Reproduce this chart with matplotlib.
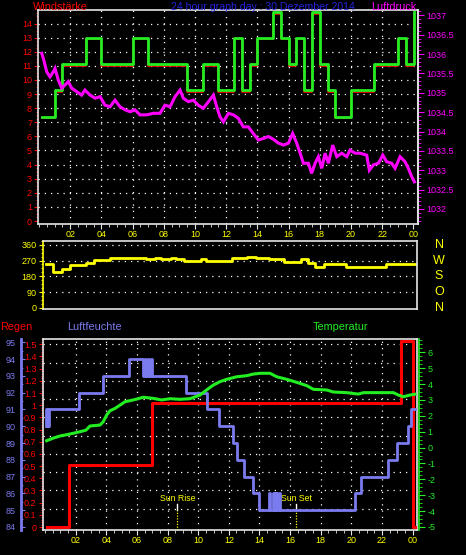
import numpy as np
import matplotlib
matplotlib.use("Agg")
import matplotlib.pyplot as plt
from matplotlib.ticker import MultipleLocator, FixedLocator, FixedFormatter, FormatStrFormatter
import matplotlib.transforms as mtransforms

# ---------------- data ----------------
hour_ticks = [2, 4, 6, 8, 10, 12, 14, 16, 18, 20, 22, 24]
hour_labels = ['02', '04', '06', '08', '10', '12', '14', '16', '18', '20', '22', '00']

# Windstärke (step series)
wind_hours = [0.17, 1.0, 1.5, 3.0, 4.0, 6.0, 7.0, 9.5, 10.5, 11.5, 12.5, 13.0, 13.5, 14.0,
              15.0, 15.5, 16.0, 16.5, 17.0, 17.5, 18.0, 18.5, 19.0, 20.0, 21.5, 23.0, 23.5, 24.05]
wind_vals = [7.4, 9.26, 11.1, 13.0, 11.1, 13.0, 11.1, 9.26, 11.1, 9.26, 13.0, 9.26, 11.1, 13.0,
             14.8, 13.0, 11.1, 13.0, 9.26, 14.8, 11.1, 9.26, 7.4, 9.26, 11.1, 13.0, 11.1, 14.8]

# Luftdruck
press_hours = [0.17, 0.27, 0.38, 0.49, 0.70, 0.91, 1.02, 1.23, 1.45, 1.66, 1.87, 2.09, 2.41, 2.73,
               2.94, 3.27, 3.59, 3.91, 4.23, 4.55, 4.87, 5.19, 5.51, 5.83, 6.15, 6.47, 6.90, 7.33,
               7.75, 8.07, 8.40, 8.72, 9.04, 9.25, 9.57, 9.89, 10.21, 10.53, 10.86, 11.18, 11.39,
               11.60, 11.82, 12.14, 12.46, 12.78, 13.10, 13.42, 13.74, 14.06, 14.38, 14.70, 15.02,
               15.35, 15.67, 15.99, 16.26, 16.52, 16.74, 16.95, 17.27, 17.48, 17.70, 17.91, 18.13,
               18.34, 18.55, 18.83, 19.09, 19.41, 19.73, 19.94, 20.26, 20.58, 21.01, 21.18, 21.44,
               21.76, 22.04, 22.29, 22.61, 22.83, 23.15, 23.47, 23.68, 23.90, 24.07]
press_vals = [1036.02, 1035.89, 1035.72, 1035.54, 1035.41, 1035.54, 1035.63, 1035.33, 1035.12,
              1035.20, 1035.29, 1035.12, 1035.03, 1034.94, 1035.07, 1034.94, 1034.86, 1034.90,
              1034.68, 1034.64, 1034.81, 1034.64, 1034.56, 1034.51, 1034.56, 1034.43, 1034.43,
              1034.47, 1034.47, 1034.68, 1034.64, 1034.90, 1035.07, 1034.86, 1034.77, 1034.81,
              1034.68, 1034.60, 1034.77, 1034.94, 1034.64, 1034.38, 1034.25, 1034.47, 1034.43,
              1034.34, 1034.12, 1034.12, 1033.95, 1033.78, 1033.82, 1033.87, 1033.80, 1033.70,
              1033.65, 1033.70, 1033.95, 1033.70, 1033.44, 1033.18, 1033.18, 1032.92, 1033.18,
              1033.35, 1033.05, 1033.44, 1033.18, 1033.65, 1033.35, 1033.44, 1033.35, 1033.52,
              1033.44, 1033.44, 1033.39, 1033.00, 1033.14, 1033.18, 1033.39, 1033.22, 1033.18,
              1033.05, 1033.35, 1033.22, 1033.05, 1032.83, 1032.70]

# Windrichtung (step series)
wdir_hours = [0.10, 0.55, 1.15, 1.65, 2.67, 3.22, 4.24, 6.59, 7.18, 7.57, 8.22, 8.55, 9.09, 10.18,
              10.55, 12.19, 13.23, 13.78, 14.65, 15.63, 16.71, 17.15, 17.63, 18.24, 19.65, 22.27, 24.16]
wdir_deg = [248, 207, 222, 247, 254, 273, 284, 276, 284, 276, 284, 276, 265, 276,
            265, 284, 292, 284, 276, 263, 276, 254, 235, 248, 235, 248, 248]
compass_deg = [360, 270, 180, 90, 0]
compass_labels = ['N', 'W', 'S', 'O', 'N']

# Regen (step series)
rain_hours = [0.10, 1.56, 6.98, 23.25, 24.0, 24.16]
rain_mm = [0.0, 0.508, 1.016, 1.524, 0.0, 0.0]

# Luftfeuchte (step series)
hum_hours = [0.04, 0.08, 0.12, 0.16, 0.20, 0.24, 2.21, 3.80, 5.50, 6.41, 6.50, 6.60, 6.70, 6.80,
             6.90, 7.00, 9.18, 10.55, 11.36, 12.25, 12.51, 13.01, 13.56, 13.97, 14.64, 14.70,
             14.88, 14.95, 15.00, 15.05, 15.10, 15.15, 15.30, 15.36, 20.24, 20.63, 22.42, 22.97,
             23.72, 23.93, 24.16]
hum_vals = [90, 91, 90, 91, 90, 91, 92, 93, 94, 93, 94, 93, 94, 93,
            94, 93, 92, 91, 90, 89, 88, 87, 86, 85, 86, 85,
            86, 85, 86, 85, 86, 85, 86, 85, 86, 87, 88, 89,
            90, 91, 91]

# Temperatur
temp_hours = [0.10, 0.54, 0.97, 1.41, 1.84, 2.28, 2.67, 2.93, 3.59, 3.80, 4.02, 4.24, 4.57, 4.90,
              5.22, 5.76, 6.42, 7.07, 7.61, 8.16, 8.81, 9.46, 10.12, 10.55, 10.99, 11.42, 11.86,
              12.51, 13.17, 13.60, 14.04, 14.69, 15.13, 15.78, 16.43, 17.09, 17.52, 18.39, 18.83,
              19.70, 20.46, 20.79, 22.75, 23.07, 23.40, 23.83, 24.16]
temp_vals = [0.43, 0.60, 0.73, 0.81, 0.90, 1.00, 1.10, 1.36, 1.42, 1.63, 2.05, 2.32, 2.47, 2.68,
             2.89, 3.00, 3.17, 3.10, 3.00, 3.08, 3.04, 3.08, 3.31, 3.63, 3.94, 4.15, 4.30,
             4.46, 4.53, 4.63, 4.68, 4.68, 4.46, 4.30, 4.11, 3.90, 3.67, 3.63, 3.50,
             3.46, 3.37, 3.46, 3.46, 3.31, 3.20, 3.31, 3.36]

sunrise_hour = 8.64
sunset_hour = 16.41

# ---------------- style ----------------
W, H = 466, 555
plt.rcParams['font.family'] = ['Liberation Sans Narrow', 'Liberation Sans', 'DejaVu Sans']
plt.rcParams['axes.unicode_minus'] = False
TITLE_FONT = ['Liberation Sans', 'DejaVu Sans']
FRAME = '#e6e6e6'
GRID = dict(color='white', linestyle=(0, (1, 4)), linewidth=0.9, zorder=0.5)
TFS = 6.5
HUM = '#7b7bf0'
TGREEN = '#22ee22'

fig = plt.figure(figsize=(W / 100, H / 100), dpi=100, facecolor='black')


def rect(l, t, r, b):
    return [l / W, 1 - b / H, (r - l) / W, (b - t) / H]


def style_frame(ax):
    ax.set_facecolor('black')
    for s in ax.spines.values():
        s.set_color(FRAME)
        s.set_linewidth(1.2)


def hour_axis(ax):
    ax.xaxis.set_major_locator(FixedLocator(hour_ticks))
    ax.xaxis.set_major_formatter(FixedFormatter(hour_labels))
    ax.xaxis.set_minor_locator(MultipleLocator(0.5))
    ax.tick_params(axis='x', which='both', colors=FRAME, labelcolor='yellow',
                   direction='out', labelsize=TFS, pad=1)
    ax.tick_params(axis='x', which='major', length=3.5)
    ax.tick_params(axis='x', which='minor', length=2)


# ---------------- panel 1: Windstärke / Luftdruck ----------------
ax1 = fig.add_axes(rect(38.3, 10, 417.7, 223.7))
style_frame(ax1)
ax1.set_xlim(-0.05, 24.28)
ax1.set_ylim(-0.19, 14.96)
hour_axis(ax1)
ax1.yaxis.set_major_locator(MultipleLocator(1))
ax1.yaxis.set_minor_locator(MultipleLocator(0.25))
ax1.tick_params(axis='y', which='both', colors='red', labelcolor='red', labelsize=TFS, pad=1.5)
ax1.tick_params(axis='y', which='major', length=3)
ax1.tick_params(axis='y', which='minor', length=1.5)
for y in range(1, 15):
    ax1.axhline(y, **GRID)
for h in hour_ticks[:-1]:
    ax1.axvline(h, **GRID)

shift = mtransforms.offset_copy(ax1.transData, fig=fig, x=0, y=-1.5, units='dots')
ax1.step(wind_hours, wind_vals, where='post', color='red', lw=1.2, transform=shift, zorder=2)
ax1.step(wind_hours, wind_vals, where='post', color='#22ee22', lw=2.0, zorder=3)

ax1b = ax1.twinx()
ax1b.set_ylim(1031.62, 1037.137)
for k in ('top', 'bottom', 'left'):
    ax1b.spines[k].set_visible(False)
ax1b.spines['right'].set_color(FRAME)
ax1b.spines['right'].set_linewidth(1.2)
ax1b.yaxis.set_major_locator(MultipleLocator(0.5))
ax1b.yaxis.set_minor_locator(MultipleLocator(0.1))
ax1b.yaxis.set_major_formatter(FormatStrFormatter('%g'))
ax1b.tick_params(axis='y', which='both', colors='#ff00ff', labelcolor='#ff00ff',
                 labelsize=TFS, pad=2)
ax1b.tick_params(axis='y', which='major', length=4)
ax1b.tick_params(axis='y', which='minor', length=2)
ax1b.plot(press_hours, press_vals, color='#ff00ff', lw=2.2, solid_joinstyle='miter')

fig.text(33.3 / W, 1 - 9.5 / H, 'Windstärke', color='red', fontsize=7.8,
         family=TITLE_FONT, ha='left', va='baseline')
fig.text(263.3 / W, 1 - 9.5 / H, '24 hour graph day : 30 Dezember 2014', color='#2424e0',
         fontsize=7.6, family=TITLE_FONT, ha='center', va='baseline')
fig.text(371 / W, 1 - 9.5 / H, 'Luftdruck', color='#ff00ff', fontsize=7.8,
         family=TITLE_FONT, ha='left', va='baseline')

# ---------------- panel 2: Windrichtung ----------------
ax2 = fig.add_axes(rect(42.8, 240.7, 417.0, 309.3))
style_frame(ax2)
ax2.spines['left'].set_color('yellow')
ax2.set_xlim(-0.12, 24.29)
ax2.set_ylim(-7.4, 382.7)
ax2.set_xticks([])
ax2.yaxis.set_major_locator(FixedLocator(compass_deg))
ax2.yaxis.set_minor_locator(MultipleLocator(22.5))
ax2.tick_params(axis='y', which='both', colors='yellow', labelcolor='yellow', labelsize=TFS, pad=1.5)
ax2.tick_params(axis='y', which='major', length=3)
ax2.tick_params(axis='y', which='minor', length=1.5)
for d in compass_deg[:-1]:
    ax2.axhline(d, **GRID)
ax2.step(wdir_hours, wdir_deg, where='post', color='yellow', lw=2.0)
cmp_tr = mtransforms.blended_transform_factory(fig.transFigure, ax2.transData)
for d, lab in zip(compass_deg, compass_labels):
    ax2.text(439 / W, d, lab, transform=cmp_tr, color='yellow', fontsize=9,
             family=TITLE_FONT, ha='center', va='center', clip_on=False)

# ---------------- panel 3: Regen / Luftfeuchte / Temperatur ----------------
ax3 = fig.add_axes(rect(42.7, 339.3, 417.3, 530))
style_frame(ax3)
ax3.set_xlim(-0.157, 24.31)
ax3.set_ylim(-0.0246, 1.541)
hour_axis(ax3)
ax3.yaxis.set_major_locator(MultipleLocator(0.1))
ax3.yaxis.set_minor_locator(MultipleLocator(0.02))
ax3.yaxis.set_major_formatter(FormatStrFormatter('%g'))
ax3.tick_params(axis='y', which='both', colors='red', labelcolor='red', labelsize=TFS, pad=1.5)
ax3.tick_params(axis='y', which='major', length=3)
ax3.tick_params(axis='y', which='minor', length=1.5)
for y in np.arange(1, 11) * 0.15:
    ax3.axhline(y, **GRID)
for h in hour_ticks[:-1]:
    ax3.axvline(h, **GRID)
ax3.step(rain_hours, rain_mm, where='post', color='red', lw=2.2, zorder=3)

sun_tr = mtransforms.blended_transform_factory(ax3.transData, ax3.transAxes)
for hr, lab in ((sunrise_hour, 'Sun Rise'), (sunset_hour, 'Sun Set')):
    ax3.plot([hr, hr], [0.105, 0.136], transform=sun_tr, color='white', lw=1.0, zorder=4)
    ax3.plot([hr, hr], [0.0, 0.105], transform=sun_tr, color='yellow', lw=0.9,
             linestyle=(0, (1, 1.2)), zorder=4)
    ax3.text(hr, 0.166, lab, transform=sun_tr, color='yellow', fontsize=6.3,
             ha='center', va='center', zorder=4)

ax3h = ax3.twinx()
ax3h.set_ylim(83.82, 95.18)
ax3h.yaxis.tick_left()
for k in ('top', 'bottom', 'right'):
    ax3h.spines[k].set_visible(False)
ax3h.spines['left'].set_visible(True)
ax3h.spines['left'].set_position(('outward', 15.4))
ax3h.spines['left'].set_color(HUM)
ax3h.spines['left'].set_linewidth(2.0)
ax3h.yaxis.set_major_locator(MultipleLocator(1))
ax3h.yaxis.set_minor_locator(MultipleLocator(0.5))
ax3h.tick_params(axis='y', which='both', colors=HUM, labelcolor=HUM, labelsize=TFS,
                 direction='in', pad=4, left=True, right=False, labelleft=True, labelright=False)
ax3h.tick_params(axis='y', which='major', length=3)
ax3h.tick_params(axis='y', which='minor', length=1.5)
ax3h.step(hum_hours, hum_vals, where='post', color=HUM, lw=2.0)

ax3t = ax3.twinx()
ax3t.set_ylim(-5.19, 6.82)
for k in ('top', 'bottom', 'left'):
    ax3t.spines[k].set_visible(False)
ax3t.spines['right'].set_position(('outward', 1.5))
ax3t.spines['right'].set_color(TGREEN)
ax3t.spines['right'].set_linewidth(1.2)
ax3t.yaxis.set_major_locator(MultipleLocator(1))
ax3t.yaxis.set_minor_locator(MultipleLocator(0.25))
ax3t.tick_params(axis='y', which='both', colors=TGREEN, labelcolor=TGREEN, labelsize=TFS, pad=2)
ax3t.tick_params(axis='y', which='major', length=4)
ax3t.tick_params(axis='y', which='minor', length=2)
ax3t.plot(temp_hours, temp_vals, color=TGREEN, lw=2.2)

fig.text(0 / W, 1 - 330 / H, 'Regen', color='red', fontsize=7.8, family=TITLE_FONT,
         ha='left', va='baseline')
fig.text(66.7 / W, 1 - 330 / H, 'Luftfeuchte', color=HUM, fontsize=7.8, family=TITLE_FONT,
         ha='left', va='baseline')
fig.text(313 / W, 1 - 330 / H, 'Temperatur', color=TGREEN, fontsize=7.8, family=TITLE_FONT,
         ha='left', va='baseline')

fig.savefig('out.png', dpi=100, facecolor='black')
